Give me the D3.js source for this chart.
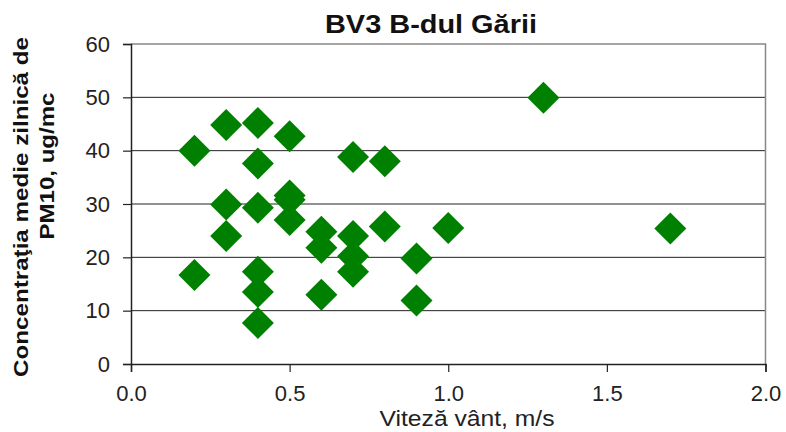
<!DOCTYPE html>
<html>
<head>
<meta charset="utf-8">
<script src="https://cdn.jsdelivr.net/npm/d3@7"></script>
<style>
  body { margin: 0; background: #fff; }
  text { font-family: "Liberation Sans", Arial, sans-serif; }
</style>
</head>
<body>
<div class="chart"></div>
<script>
// data
const windSpeed = [0.2, 0.3, 0.4, 0.5, 0.4, 0.7, 0.8, 0.5, 0.5, 0.3, 0.4, 0.5, 0.3, 0.6, 0.6, 0.7, 0.7, 0.7, 0.8, 0.2, 0.4, 0.4, 0.4, 0.6, 1.0, 0.9, 0.9, 1.7, 1.3];
const pm10 = [40.0, 44.8, 45.2, 42.7, 37.6, 38.8, 38.0, 31.6, 30.8, 29.9, 29.3, 27.0, 24.0, 24.8, 21.8, 24.0, 20.2, 17.3, 25.8, 16.7, 17.3, 13.5, 7.7, 13.0, 25.5, 19.8, 11.9, 25.4, 49.9];
const xTicks = [0, 0.5, 1.0, 1.5, 2.0];
const yTicks = [0, 10, 20, 30, 40, 50, 60];

const W = 786, H = 432;
const margin = {top: 44, right: 20, bottom: 68, left: 131};

const svg = d3.select('.chart')
  .append('svg')
  .attr('width', W)
  .attr('height', H);

const x = d3.scaleLinear().domain([0, 2]).range([margin.left, 765.5]);
const y = d3.scaleLinear().domain([0, 60]).range([364, margin.top]);

// horizontal grid
svg.append('g')
  .selectAll('line')
  .data(yTicks.filter(d => d > 0 && d < 60))
  .enter()
  .append('line')
  .attr('x1', x(0)).attr('x2', x(2))
  .attr('y1', d => y(d)).attr('y2', d => y(d))
  .attr('stroke', '#222')
  .attr('stroke-width', 1);

// top and right border
svg.append('path')
  .attr('d', `M${x(0)},${y(60)}H${x(2)}V${y(0)}`)
  .attr('fill', 'none')
  .attr('stroke', '#888')
  .attr('stroke-width', 1.5);

// axes
const yAxis = svg.append('g')
  .attr('transform', `translate(${x(0)},0)`)
  .call(d3.axisLeft(y).tickValues(yTicks).tickSize(8).tickPadding(13).tickFormat(d3.format('d')));

const xAxis = svg.append('g')
  .attr('transform', `translate(0,${y(0)})`)
  .call(d3.axisBottom(x).tickValues(xTicks).tickSize(8).tickPadding(13).tickFormat(d3.format('.1f')));

[xAxis, yAxis].forEach(a => {
  a.select('.domain').attr('stroke', '#222').attr('stroke-width', 1.5);
  a.selectAll('.tick line').attr('stroke', '#222').attr('stroke-width', 1.2);
  a.selectAll('.tick text')
    .style('font-family', '"Liberation Sans", Arial, sans-serif')
    .style('font-size', '22px')
    .attr('fill', '#222');
});

// diamonds
svg.append('g')
  .selectAll('path')
  .data(windSpeed.map((d, i) => [d, pm10[i]]))
  .enter()
  .append('path')
  .attr('d', d3.symbol().type(d3.symbolSquare).size(512))
  .attr('transform', d => `translate(${x(d[0])},${y(d[1])}) rotate(45)`)
  .attr('fill', '#008000');

// title
svg.append('text')
  .attr('x', 431)
  .attr('y', 33)
  .attr('text-anchor', 'middle')
  .attr('textLength', 212)
  .attr('lengthAdjust', 'spacingAndGlyphs')
  .style('font-size', '25px')
  .style('font-weight', 'bold')
  .attr('fill', '#111')
  .text('BV3 B-dul Gării');

// x label
svg.append('text')
  .attr('x', 467)
  .attr('y', 426)
  .attr('text-anchor', 'middle')
  .attr('textLength', 175)
  .attr('lengthAdjust', 'spacingAndGlyphs')
  .style('font-size', '22px')
  .attr('fill', '#222')
  .text('Viteză vânt,  m/s');

// y label, two lines
svg.append('text')
  .attr('transform', 'translate(28,207) rotate(-90)')
  .attr('text-anchor', 'middle')
  .attr('textLength', 340)
  .attr('lengthAdjust', 'spacingAndGlyphs')
  .style('font-size', '20px')
  .style('font-weight', 'bold')
  .attr('fill', '#111')
  .text('Concentraţia medie zilnică de');

svg.append('text')
  .attr('transform', 'translate(54,166) rotate(-90)')
  .attr('text-anchor', 'middle')
  .attr('textLength', 147)
  .attr('lengthAdjust', 'spacingAndGlyphs')
  .style('font-size', '20px')
  .style('font-weight', 'bold')
  .attr('fill', '#111')
  .text('PM10, ug/mc');
</script>
</body>
</html>
